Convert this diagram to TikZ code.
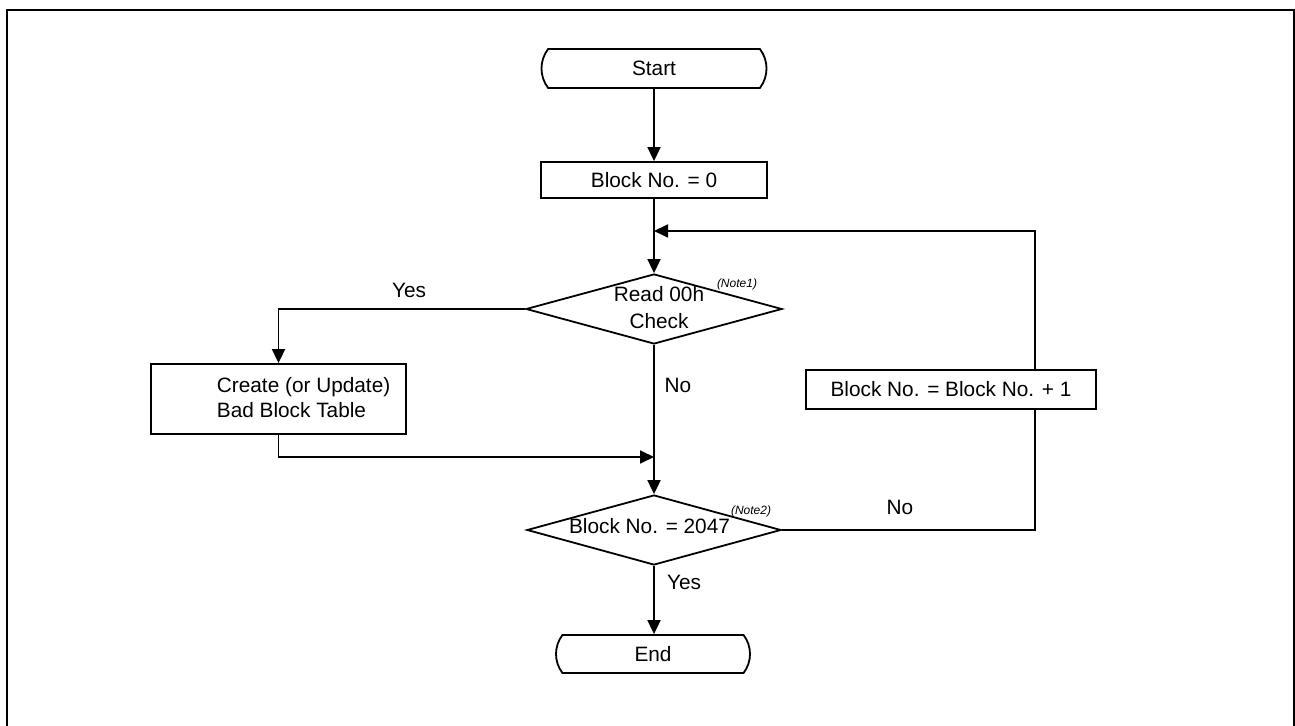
\documentclass[tikz,border=0pt]{standalone}
\usepackage{fontspec}
\setmainfont{Liberation Sans}
\usetikzlibrary{shapes.geometric,shapes.misc,arrows.meta}
\begin{document}
\begin{tikzpicture}[x=0.5pt,y=-0.5pt,
  line width=0.9pt,
  every node/.style={font=\fontsize{10.4}{12.5}\selectfont, inner sep=0pt},
  term/.style={draw, rounded rectangle, rounded rectangle arc length=75, minimum width=112.5pt, minimum height=19.5pt},
  proc/.style={draw, rectangle},
  dec/.style={draw, diamond, minimum width=128pt, minimum height=35pt},
  note/.style={font=\fontsize{6}{7}\selectfont\itshape},
  arr/.style={-{Triangle[length=7pt,width=6.5pt]}}
]
\useasboundingbox (0,0) rectangle (1295,726);
\draw[line width=0.75pt] (7,726) -- (7,10) -- (1294,10) -- (1294,726);

\node[term] (start) at (654,68.5) {Start};
\node[proc, minimum width=113pt, minimum height=18pt] (b0) at (654,180) {Block No. = 0};
\node[dec] (d1) at (654,309) {};
\node[align=center, font=\fontsize{10.4}{13.5}\selectfont] (d1t) at (659,308) {Read 00h\\Check};
\node[note] (n1) at (737,284) {(Note1)};
\node[proc, minimum width=127.5pt, minimum height=35pt] (cb) at (278.5,399) {};
\node[anchor=west, align=left] (cbt) at (216,397.5) {Create (or Update)\\Bad Block Table};
\node[proc, minimum width=145pt, minimum height=19.5pt] (inc) at (951,389.5) {Block No. = Block No. + 1};
\node[dec, minimum width=127pt] (d2) at (654,530) {};
\node (d2t) at (649.5,526) {Block No. = 2047};
\node[note] (n2) at (751,511) {(Note2)};
\node[term, minimum width=97pt, minimum height=19pt] (end) at (653,654) {End};

\coordinate (j1) at (654,457);
\coordinate (j2) at (654,231);
\coordinate (rc) at (1035,530);

\draw[arr] (start) -- (b0);
\draw[arr] (b0) -- (d1);
\draw[arr] (d1.west) -| (cb.north);
\node (yes1) at (409,290) {Yes};
\draw[arr] (d1) -- (d2);
\node (no1) at (678,385) {No};
\draw[arr] (cb.south) |- (j1);
\draw (d2.east) -- (rc) -- (rc |- inc.south);
\draw[arr] (rc |- inc.north) |- (j2);
\node (no2) at (900,507) {No};
\draw[arr] (d2.south) -- (d2.south |- end.north);
\node (yes2) at (684,582) {Yes};
\end{tikzpicture}
\end{document}
